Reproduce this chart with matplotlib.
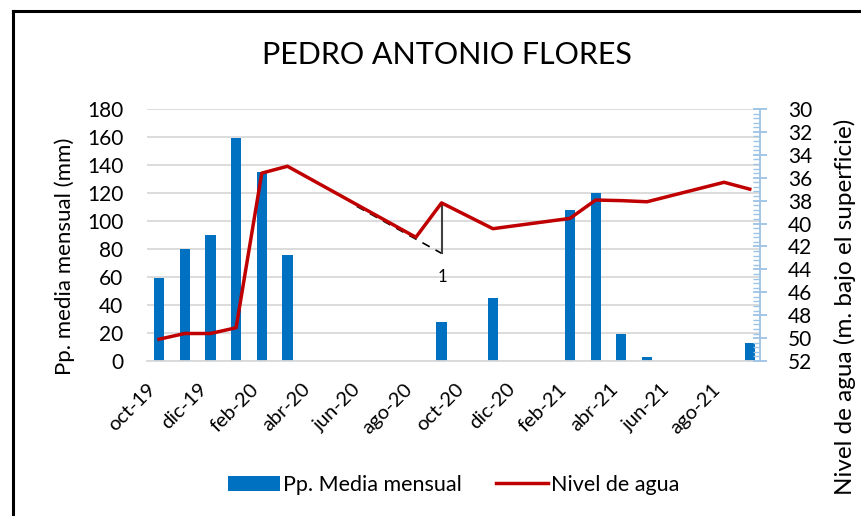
import numpy as np
import matplotlib.pyplot as plt
from matplotlib.ticker import MultipleLocator
from matplotlib.lines import Line2D

# monthly data, oct-19 .. sep-21
months = ['oct-19', 'nov-19', 'dic-19', 'ene-20', 'feb-20', 'mar-20', 'abr-20', 'may-20',
          'jun-20', 'jul-20', 'ago-20', 'sep-20', 'oct-20', 'nov-20', 'dic-20', 'ene-21',
          'feb-21', 'mar-21', 'abr-21', 'may-21', 'jun-21', 'jul-21', 'ago-21', 'sep-21']
pp = [59, 80, 90, 159, 135, 76, 0, 0, 0, 0, 0, 28, 0, 45, 0, 0, 108, 120, 19, 3, 0, 0, 0, 13]
nivel = [50.1, 49.6, 49.6, 49.1, 35.6, 35.0, np.nan, np.nan, np.nan, np.nan, 41.2, 38.2,
         np.nan, 40.45, np.nan, np.nan, 39.55, 37.95, 38.0, 38.1, np.nan, np.nan, 36.4, 37.0]

# hand drawn trend sketch (right axis units)
trend_x = [7.7, 11.0]
trend_y = [38.5, 42.6]
drop_x = [11.0, 11.0]
drop_y = [38.2, 42.6]

plt.rcParams['font.family'] = ['Lato', 'DejaVu Sans']

x = np.arange(len(months))
nivel = np.array(nivel)
ok = ~np.isnan(nivel)

fig = plt.figure(figsize=(8.62, 5.16), dpi=100)
ax = fig.add_axes([0.1705, 0.3004, 0.7112, 0.4884])
ax2 = ax.twinx()

ax.bar(x, pp, width=0.4, color='#0070C0', label='Pp. Media mensual', zorder=2)
ax.set_xlim(-0.47, 23.4)
ax.set_ylim(0, 180)
ax.yaxis.set_major_locator(MultipleLocator(20))
ax.grid(axis='y', color='#D9D9D9', lw=1.3, zorder=0)
ax.set_axisbelow(True)
for s in ['top', 'left', 'right']:
    ax.spines[s].set_visible(False)
ax.spines['bottom'].set_color('#D9D9D9')
ax.spines['bottom'].set_linewidth(1.3)
ax.tick_params(axis='y', length=0, labelsize=15, pad=17)
ax.tick_params(axis='x', length=0, labelsize=14.5, pad=14)
ax.set_xticks(x[::2])
ax.set_xticklabels(months[::2], rotation=45, ha='right')

ax2.plot(x[ok], nivel[ok], color='#C00000', lw=2.5, label='Nivel de agua', zorder=3)
ax2.plot(trend_x, trend_y, color='black', lw=1.2, ls=(0, (5, 4)))
ax2.plot(drop_x, drop_y, color='#404040', lw=1.5)
ax2.text(11.05, 44.7, '1', fontsize=12, ha='center', va='center')
ax2.set_ylim(52, 30)
ax2.yaxis.set_major_locator(MultipleLocator(2))
ax2.yaxis.set_minor_locator(MultipleLocator(0.4))
for s in ['top', 'left', 'bottom']:
    ax2.spines[s].set_visible(False)
ax2.spines['right'].set_color('#9DC3E6')
ax2.spines['right'].set_linewidth(1.3)
ax2.tick_params(axis='y', which='major', direction='inout', length=10, width=1.3,
                color='#9DC3E6', labelsize=15, pad=15)
ax2.tick_params(axis='y', which='minor', direction='in', length=5, width=1.0, color='#9DC3E6')

# axis titles placed as in the reference (not centred on the axes)
fig.text(65 / 862, 1 - 256 / 516, 'Pp. media mensual (mm)', fontsize=16,
         rotation=90, ha='center', va='center')
fig.text(845 / 862, 1 - 307 / 516, 'Nivel de agua (m. bajo el superficie)', fontsize=17.5,
         rotation=90, ha='center', va='center')

h1, l1 = ax.get_legend_handles_labels()
h2, l2 = ax2.get_legend_handles_labels()
fig.legend(h1 + h2, l1 + l2, loc='center', bbox_to_anchor=(454 / 862, 1 - 485 / 516),
           ncol=2, frameon=False, fontsize=15.5, handlelength=2.4, columnspacing=1.6,
           handletextpad=0.15)

fig.text(447 / 862, 1 - 55 / 516, 'PEDRO ANTONIO FLORES', fontsize=22, ha='center', va='center')

# chart frame
fig.add_artist(Line2D([13 / 862, 13 / 862], [0, 1 - 11 / 516], color='black', lw=2.2))
fig.add_artist(Line2D([13 / 862, 1], [1 - 11 / 516, 1 - 11 / 516], color='black', lw=2.2))

fig.savefig('out.png', dpi=100)
